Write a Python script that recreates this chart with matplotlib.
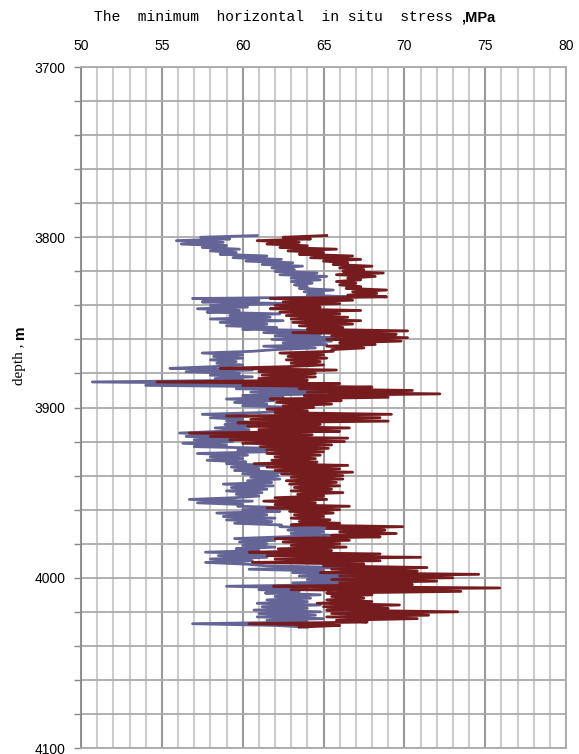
import numpy as np
import matplotlib
matplotlib.use("Agg")
import matplotlib.pyplot as plt
from matplotlib.ticker import MultipleLocator

# depth samples (m), one per metre
depth = np.arange(3799, 4030)

# minimum horizontal stress, first curve (blue), MPa
stress_blue = [
    60.9, 57.4, 59.2, 55.9, 58.8, 56.2, 59.0, 57.5, 59.8, 58.0,
    59.6, 58.6, 61.5, 59.4, 62.4, 60.2, 63.1, 61.2, 63.7, 61.8,
    63.2, 62.0, 64.6, 62.3, 65.2, 63.0, 64.8, 63.0, 64.3, 63.2,
    64.0, 63.5, 65.6, 63.8, 65.0, 64.0, 66.6, 56.9, 61.0, 57.5,
    63.1, 58.0, 60.3, 57.2, 59.8, 57.8, 62.3, 59.2, 61.7, 58.0,
    62.5, 58.6, 61.5, 59.0, 62.1, 60.0, 65.6, 61.3, 64.8, 62.0,
    66.0, 61.8, 65.5, 62.5, 65.2, 61.3, 64.5, 62.0, 60.6, 57.5,
    60.0, 58.2, 60.0, 58.0, 59.6, 58.4, 60.0, 58.2, 55.5, 60.6,
    56.5, 59.8, 58.0, 60.6, 58.3, 60.0, 50.7, 62.0, 54.0, 64.0,
    59.6, 66.0, 60.5, 65.0, 60.0, 62.5, 59.0, 61.9, 59.5, 61.5,
    60.0, 63.5, 62.0, 63.3, 61.0, 57.5, 60.3, 58.0, 60.0, 59.0,
    61.6, 58.9, 60.6, 58.3, 60.4, 58.6, 56.1, 59.0, 56.5, 60.0,
    57.0, 59.4, 56.3, 59.0, 57.0, 62.0, 59.7, 61.5, 57.2, 60.3,
    58.0, 60.0, 57.8, 60.2, 59.0, 61.6, 59.3, 61.0, 59.5, 62.7,
    60.0, 62.2, 60.5, 62.3, 60.3, 61.8, 58.8, 61.9, 59.3, 61.5,
    59.0, 61.2, 59.6, 61.0, 59.5, 56.7, 60.6, 57.2, 60.0, 59.7,
    63.4, 60.0, 62.3, 58.4, 61.5, 58.8, 62.0, 59.0, 61.8, 59.5,
    62.4, 62.3, 65.6, 62.8, 65.0, 63.0, 65.4, 62.5, 59.5, 62.0,
    59.8, 61.5, 60.0, 62.0, 59.6, 61.0, 57.7, 62.3, 58.5, 61.5,
    58.0, 60.6, 57.7, 60.2, 61.5, 66.4, 60.4, 65.0, 63.1, 67.1,
    63.5, 66.5, 64.0, 67.4, 63.1, 66.0, 59.0, 64.0, 61.0, 63.5,
    61.4, 64.8, 62.0, 64.2, 61.5, 64.0, 60.9, 64.8, 61.2, 64.0,
    60.7, 64.8, 61.0, 64.5, 60.9, 65.0, 61.5, 64.0, 56.9, 62.0,
    64.0,
]

# second curve (dark red), MPa
stress_red = [
    65.2, 62.5, 64.2, 60.9, 63.5, 61.5, 64.0, 62.3, 65.8, 62.8,
    65.0, 63.5, 66.8, 64.2, 67.3, 65.0, 66.5, 65.6, 68.0, 66.0,
    67.5, 66.2, 68.7, 65.8, 68.2, 66.5, 67.3, 65.8, 67.0, 66.0,
    67.3, 66.4, 68.9, 66.8, 68.3, 66.5, 68.9, 61.7, 66.8, 62.5,
    66.0, 62.0, 64.8, 61.7, 67.3, 62.3, 66.0, 62.7, 66.5, 63.0,
    67.3, 63.1, 66.8, 63.5, 66.2, 64.0, 70.2, 63.1, 69.5, 65.5,
    70.2, 65.2, 69.8, 66.0, 68.2, 65.2, 67.5, 65.5, 65.6, 62.3,
    65.0, 62.8, 65.2, 62.7, 64.8, 63.0, 65.0, 62.8, 58.6, 65.8,
    61.0, 64.5, 61.2, 64.5, 61.0, 64.0, 54.7, 66.0, 60.0, 68.0,
    63.5, 70.5, 64.0, 72.2, 63.8, 69.0, 61.7, 66.1, 62.1, 65.5,
    62.5, 64.4, 61.5, 64.0, 62.0, 69.2, 59.0, 68.5, 60.5, 69.0,
    59.7, 64.8, 60.3, 66.6, 61.0, 66.0, 56.7, 64.3, 58.0, 66.5,
    59.2, 66.3, 60.0, 65.5, 61.1, 65.3, 61.5, 65.0, 61.5, 64.8,
    62.0, 64.5, 61.8, 64.6, 60.7, 66.5, 61.5, 66.0, 62.0, 66.8,
    62.4, 66.2, 63.0, 66.2, 62.7, 65.8, 62.9, 66.0, 63.2, 65.5,
    63.0, 66.2, 63.4, 65.0, 62.0, 65.2, 61.3, 64.5, 62.0, 66.6,
    61.5, 66.0, 62.9, 65.6, 63.2, 65.0, 63.0, 65.4, 63.5, 66.0,
    63.0, 69.9, 65.2, 68.8, 66.0, 69.5, 65.5, 68.5, 62.0, 66.6,
    62.5, 66.0, 63.0, 66.4, 62.2, 65.5, 60.4, 68.5, 61.5, 71.0,
    62.0, 68.5, 60.6, 67.5, 65.0, 71.4, 65.5, 70.8, 64.8, 74.6,
    66.0, 73.0, 65.5, 72.0, 66.0, 70.5, 61.9, 75.9, 63.0, 73.5,
    65.2, 68.0, 65.5, 67.5, 65.2, 68.0, 64.6, 69.7, 65.0, 69.0,
    65.2, 73.3, 65.5, 71.5, 65.2, 70.8, 65.8, 67.7, 60.4, 66.0,
    63.5,
]

fig = plt.figure(figsize=(5.79, 7.54), dpi=100)
ax = fig.add_axes([81/579, 6/754, 485/579, 681/754])

ax.plot(stress_blue, depth, color="#646496", lw=2.0, zorder=3)
ax.plot(stress_red, depth, color="#771c1e", lw=2.0, zorder=4)

ax.set_xlim(50, 80)
ax.set_ylim(4100, 3700)

ax.xaxis.set_major_locator(MultipleLocator(5))
ax.xaxis.set_minor_locator(MultipleLocator(1))
ax.yaxis.set_major_locator(MultipleLocator(100))
ax.yaxis.set_minor_locator(MultipleLocator(20))

ax.xaxis.tick_top()
ax.tick_params(axis="x", which="both", length=0, pad=10, labelsize=10)
ax.tick_params(axis="y", which="both", direction="out", length=5, color="#888888",
               width=1, pad=6, labelsize=10)
for lab in ax.get_xticklabels() + ax.get_yticklabels():
    lab.set_family("Liberation Sans")

ax.grid(which="minor", axis="x", color="#cccccc", lw=1.5)
ax.grid(which="major", axis="x", color="#999999", lw=1.5)
ax.grid(which="both", axis="y", color="#aaaaaa", lw=1.3)
ax.set_axisbelow(True)

for s in ax.spines.values():
    s.set_color("#aaaaaa")
    s.set_linewidth(1.3)
ax.spines["left"].set_color("#888888")

# title on top
t = fig.text(94/579, 1 - 17/754, "The  minimum  horizontal  in situ  stress ",
             family="Liberation Mono", fontsize=10.5, va="center", ha="left")
ax.annotate(",MPa", xy=(1, 0.5), xycoords=t, va="center", ha="left",
            fontsize=10.5, fontweight="bold", family="Liberation Sans",
            annotation_clip=False)

# y label
yl = fig.text(20/579, 0.52, "depth , ", family="Liberation Serif", fontsize=11,
              rotation=90, va="center", ha="center")
ax.annotate("m", xy=(0.5, 1), xycoords=yl, va="bottom", ha="center", rotation=90,
            fontsize=11, fontweight="bold", family="Liberation Sans",
            annotation_clip=False)

fig.savefig("out.png", dpi=100)
